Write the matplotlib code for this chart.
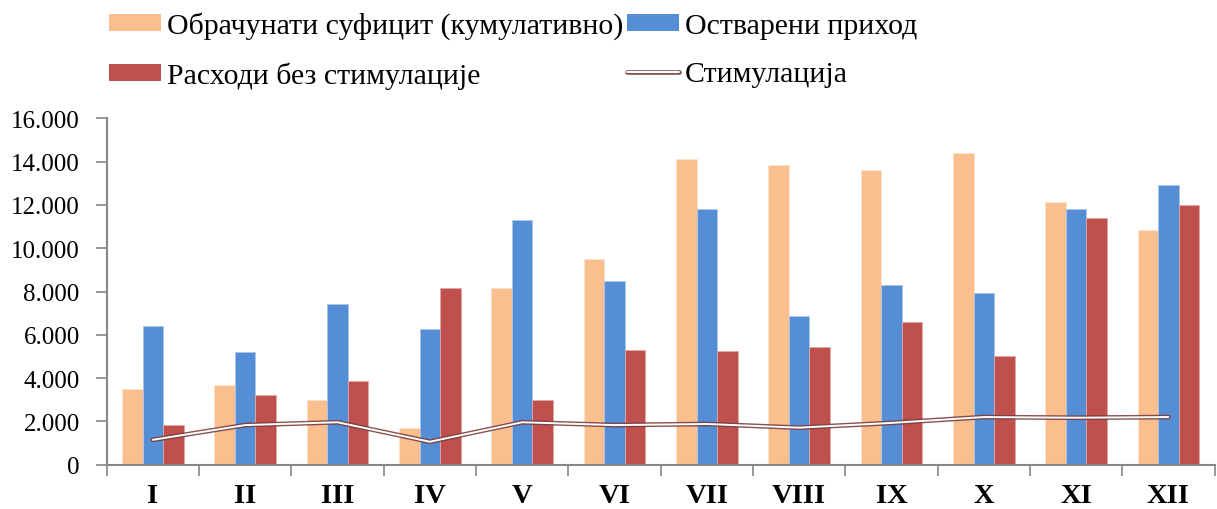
import numpy as np
import matplotlib
matplotlib.use('Agg')
from matplotlib import pyplot as plt
import matplotlib.patheffects as pe
from matplotlib.lines import Line2D
from matplotlib.patches import Patch
from matplotlib.legend_handler import HandlerLine2D
from matplotlib.ticker import FuncFormatter, FixedLocator

# ---------------- data ----------------
months = ['I', 'II', 'III', 'IV', 'V', 'VI', 'VII', 'VIII', 'IX', 'X', 'XI', 'XII']
surplus = [3480, 3700, 3000, 1700, 8160, 9500, 14130, 13840, 13630, 14400, 12120, 10840]
revenue = [6420, 5210, 7420, 6270, 11320, 8500, 11810, 6850, 8300, 7930, 11810, 12930]
expenses = [1820, 3220, 3880, 8180, 2970, 5300, 5250, 5450, 6590, 5010, 11390, 12010]
stimulation = [1150, 1830, 1960, 1060, 1960, 1830, 1880, 1710, 1930, 2200, 2170, 2200]

labels = ['Обрачунати суфицит (кумулативно)', 'Остварени приход',
          'Расходи без стимулације', 'Стимулација']

C_SURPLUS = '#F9BF8F'
C_REVENUE = '#558ED5'
C_EXPENSE = '#C0504D'
C_LINE = '#7A3F3F'
C_AXIS = '#868686'

plt.rcParams['font.family'] = ['Liberation Serif', 'DejaVu Serif']

fig = plt.figure(figsize=(12.17, 5.10), dpi=100)
ax = fig.add_axes([0.0877, 0.0869, 0.9103, 0.679])

x = np.arange(len(months))
w = 0.222
ax.bar(x - w, surplus, w, color=C_SURPLUS, edgecolor='#FDE3CF', linewidth=0.6)
ax.bar(x, revenue, w, color=C_REVENUE, edgecolor='#A9C6EA', linewidth=0.6)
ax.bar(x + w, expenses, w, color=C_EXPENSE, edgecolor='#E0A8A6', linewidth=0.6)

# double line: white core with a dark outline
outline = [pe.Stroke(linewidth=3.4, foreground=C_LINE, alpha=0.9), pe.Normal()]
ax.plot(x, stimulation, color='white', lw=1.4, solid_capstyle='round',
        solid_joinstyle='round', zorder=5, path_effects=outline)

ax.set_xlim(-0.5, len(months) - 0.5)
ax.set_ylim(0, 16000)
ax.set_yticks(np.arange(0, 16001, 2000))
ax.yaxis.set_major_formatter(FuncFormatter(lambda v, p: f'{int(v):,}'.replace(',', '.')))

ax.set_xticks(x)
ax.set_xticklabels(months, fontweight='bold', fontsize=20.5)
ax.xaxis.set_minor_locator(FixedLocator(np.arange(-0.5, len(months), 1.0)))
ax.tick_params(axis='x', which='major', length=0, pad=13)
ax.tick_params(axis='x', which='minor', length=8, width=1.2, color=C_AXIS, direction='out')
ax.tick_params(axis='y', length=8, width=1.2, color=C_AXIS, labelsize=18, pad=11.5)

for s in ['top', 'right']:
    ax.spines[s].set_visible(False)
for s in ['left', 'bottom']:
    ax.spines[s].set_color(C_AXIS)
    ax.spines[s].set_linewidth(1.5)

# ---------------- legend (row-wise order, so feed it column-wise) ----------------
h_line = Line2D([], [], color='white', lw=1.4, solid_capstyle='round', path_effects=outline)
handles = [Patch(facecolor=C_SURPLUS), Patch(facecolor=C_EXPENSE),
           Patch(facecolor=C_REVENUE), h_line]
order_labels = [labels[0], labels[2], labels[1], labels[3]]
fig.legend(handles, order_labels, ncol=2, loc='upper left',
           bbox_to_anchor=(109 / 1217, 0.976), borderaxespad=0, borderpad=0,
           frameon=False, fontsize=21.5, handlelength=1.74, handleheight=0.5,
           handletextpad=0.2, columnspacing=0.13, labelspacing=0.75,
           handler_map={Line2D: HandlerLine2D(marker_pad=0.1)})

plt.savefig('out.png', dpi=100)
